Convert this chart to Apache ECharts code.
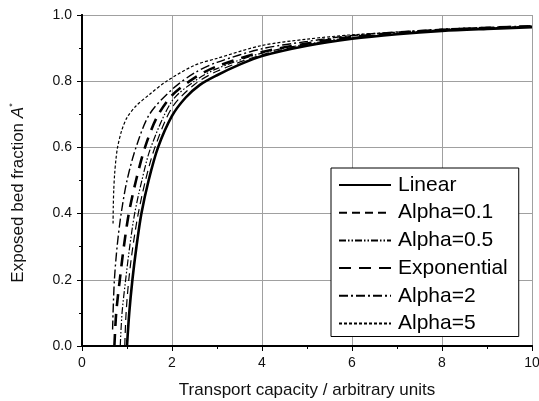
<!DOCTYPE html>
<html>
<head>
<meta charset="utf-8">
<script src="https://cdn.jsdelivr.net/npm/echarts@6/dist/echarts.min.js"></script>
<style>
  html, body { margin: 0; padding: 0; background: #fff; }
  #chart { width: 539px; height: 401px; }
</style>
</head>
<body>
<div id="chart"></div>
<script>
// Exposed bed fraction A* against transport capacity, one curve per model.
const xTicks = [0, 2, 4, 6, 8, 10];
const yTicks = [0.0, 0.2, 0.4, 0.6, 0.8, 1.0];

const seriesNames = ['Linear', 'Alpha=0.1', 'Alpha=0.5', 'Exponential', 'Alpha=2', 'Alpha=5'];

// [transport capacity, exposed fraction]
const linear = [
  [1.00, 0.00], [1.05, 0.10], [1.12, 0.20], [1.21, 0.30], [1.32, 0.40], [1.48, 0.50],
  [1.69, 0.60], [2.00, 0.695], [2.30, 0.75], [2.62, 0.789], [3.00, 0.818], [3.50, 0.85],
  [4.00, 0.876], [5.00, 0.907], [6.00, 0.928], [7.00, 0.942], [8.00, 0.952], [9.00, 0.958], [10.0, 0.963]
];
const alpha01 = [
  [0.95, 0.00], [0.98, 0.10], [1.04, 0.20], [1.13, 0.30], [1.25, 0.40], [1.41, 0.50],
  [1.62, 0.60], [2.00, 0.72], [2.50, 0.79], [3.00, 0.83], [4.00, 0.88], [5.00, 0.91],
  [6.00, 0.93], [8.00, 0.953], [10.0, 0.964]
];
const alpha05 = [
  [0.85, 0.00], [0.89, 0.10], [0.97, 0.20], [1.06, 0.30], [1.17, 0.40], [1.33, 0.50],
  [1.53, 0.60], [2.00, 0.74], [2.50, 0.80], [3.00, 0.838], [4.00, 0.885], [5.00, 0.912],
  [6.00, 0.932], [8.00, 0.954], [10.0, 0.965]
];
const exponential = [
  [0.72, 0.00], [0.76, 0.10], [0.84, 0.20], [0.93, 0.30], [1.04, 0.40], [1.20, 0.50],
  [1.40, 0.60], [1.66, 0.69], [2.00, 0.757], [2.50, 0.81], [3.00, 0.845], [4.00, 0.888],
  [5.00, 0.914], [6.00, 0.934], [8.00, 0.955], [10.0, 0.966]
];
const alpha2 = [
  [0.68, 0.05], [0.69, 0.10], [0.72, 0.20], [0.78, 0.30], [0.87, 0.40], [1.00, 0.50],
  [1.20, 0.60], [1.50, 0.70], [2.00, 0.775], [2.50, 0.825], [3.00, 0.857], [4.00, 0.898],
  [5.00, 0.92], [6.00, 0.938], [8.00, 0.957], [10.0, 0.967]
];
const alpha5 = [
  [0.69, 0.37], [0.695, 0.42], [0.705, 0.47], [0.725, 0.52], [0.755, 0.565], [0.79, 0.60],
  [0.88, 0.65], [1.00, 0.69], [1.20, 0.725], [1.50, 0.76], [1.88, 0.80], [2.50, 0.848],
  [3.00, 0.869], [4.00, 0.908], [5.00, 0.927], [6.00, 0.94], [8.00, 0.955], [10.0, 0.966]
];

const curves = [linear, alpha01, alpha05, exponential, alpha2, alpha5];
const strokes = [
  { width: 2.6, type: 'solid' },
  { width: 1.2, type: [8, 5] },
  { width: 1.2, type: [7, 2, 1.5, 2, 1.5, 2] },
  { width: 2.6, type: [12, 8] },
  { width: 1.4, type: [9, 3, 2, 3] },
  { width: 1.2, type: [3, 2] }
];

const FONT = "'Liberation Sans', Arial, sans-serif";

const chart = echarts.init(document.getElementById('chart'), null, { renderer: 'canvas' });

const axisBase = {
  type: 'value',
  axisLine: { show: true, lineStyle: { color: '#000', width: 2 } },
  axisTick: { show: true, length: 5, lineStyle: { color: '#000', width: 1 } },
  minorTick: { show: true, splitNumber: 2, length: 3, lineStyle: { color: '#000', width: 1 } },
  axisLabel: { color: '#111', fontSize: 14, fontFamily: FONT, margin: 10 },
  splitLine: { show: true, lineStyle: { color: '#a0a0a0', width: 1 } }
};

chart.setOption({
  animation: false,
  backgroundColor: '#fff',
  grid: { left: 82, right: 7, top: 15, bottom: 55, containLabel: false, outerBoundsMode: 'none' },
  xAxis: [
    Object.assign({}, axisBase, {
      min: xTicks[0], max: xTicks[xTicks.length - 1], interval: 2,
      name: 'Transport capacity / arbitrary units',
      nameLocation: 'middle', nameGap: 36,
      nameTextStyle: { color: '#111', fontSize: 17, fontFamily: FONT },
      axisLabel: Object.assign({}, axisBase.axisLabel, { formatter: v => String(v) })
    }),
    Object.assign({}, axisBase, {
      position: 'top',
      min: xTicks[0], max: xTicks[xTicks.length - 1], interval: 2,
      axisTick: Object.assign({}, axisBase.axisTick, { inside: true, length: 3 }),
      axisLabel: { show: false },
      splitLine: { show: false }
    })
  ],
  yAxis: [
    Object.assign({}, axisBase, {
      min: yTicks[0], max: yTicks[yTicks.length - 1], interval: 0.2,
      axisLabel: Object.assign({}, axisBase.axisLabel, { formatter: v => v.toFixed(1) })
    }),
    Object.assign({}, axisBase, {
      position: 'right',
      min: yTicks[0], max: yTicks[yTicks.length - 1], interval: 0.2,
      axisTick: Object.assign({}, axisBase.axisTick, { inside: true, length: 3 }),
      axisLabel: { show: false },
      splitLine: { show: false }
    })
  ],
  legend: {
    orient: 'vertical',
    left: 331, top: 168,
    padding: [6, 11, 2, 7],
    itemGap: 5.7,
    itemWidth: 52, itemHeight: 2,
    backgroundColor: '#fff',
    borderColor: '#000', borderWidth: 1,
    itemStyle: { opacity: 0 },
    textStyle: { color: '#000', fontSize: 21, fontFamily: FONT, lineHeight: 22, padding: [0, 0, 0, 2] },
    data: seriesNames
  },
  graphic: [{
    type: 'text',
    x: 18, y: 193,
    rotation: Math.PI / 2,
    style: {
      text: '{n|Exposed bed fraction }{i|A}{s|*}',
      align: 'center', verticalAlign: 'middle',
      fill: '#111',
      rich: {
        n: { fontSize: 17, fontFamily: FONT, fill: '#111' },
        i: { fontSize: 17, fontFamily: FONT, fontStyle: 'italic', fill: '#111' },
        s: { fontSize: 9, fontFamily: FONT, fill: '#111', padding: [0, 0, 10, 0] }
      }
    }
  }],
  series: seriesNames.map((name, k) => ({
    name: name,
    type: 'line',
    data: curves[k],
    symbol: 'none',
    showSymbol: false,
    smooth: 0.3,
    color: '#000',
    lineStyle: { color: '#000', width: strokes[k].width, type: strokes[k].type },
    z: 3
  }))
});
</script>
</body>
</html>
